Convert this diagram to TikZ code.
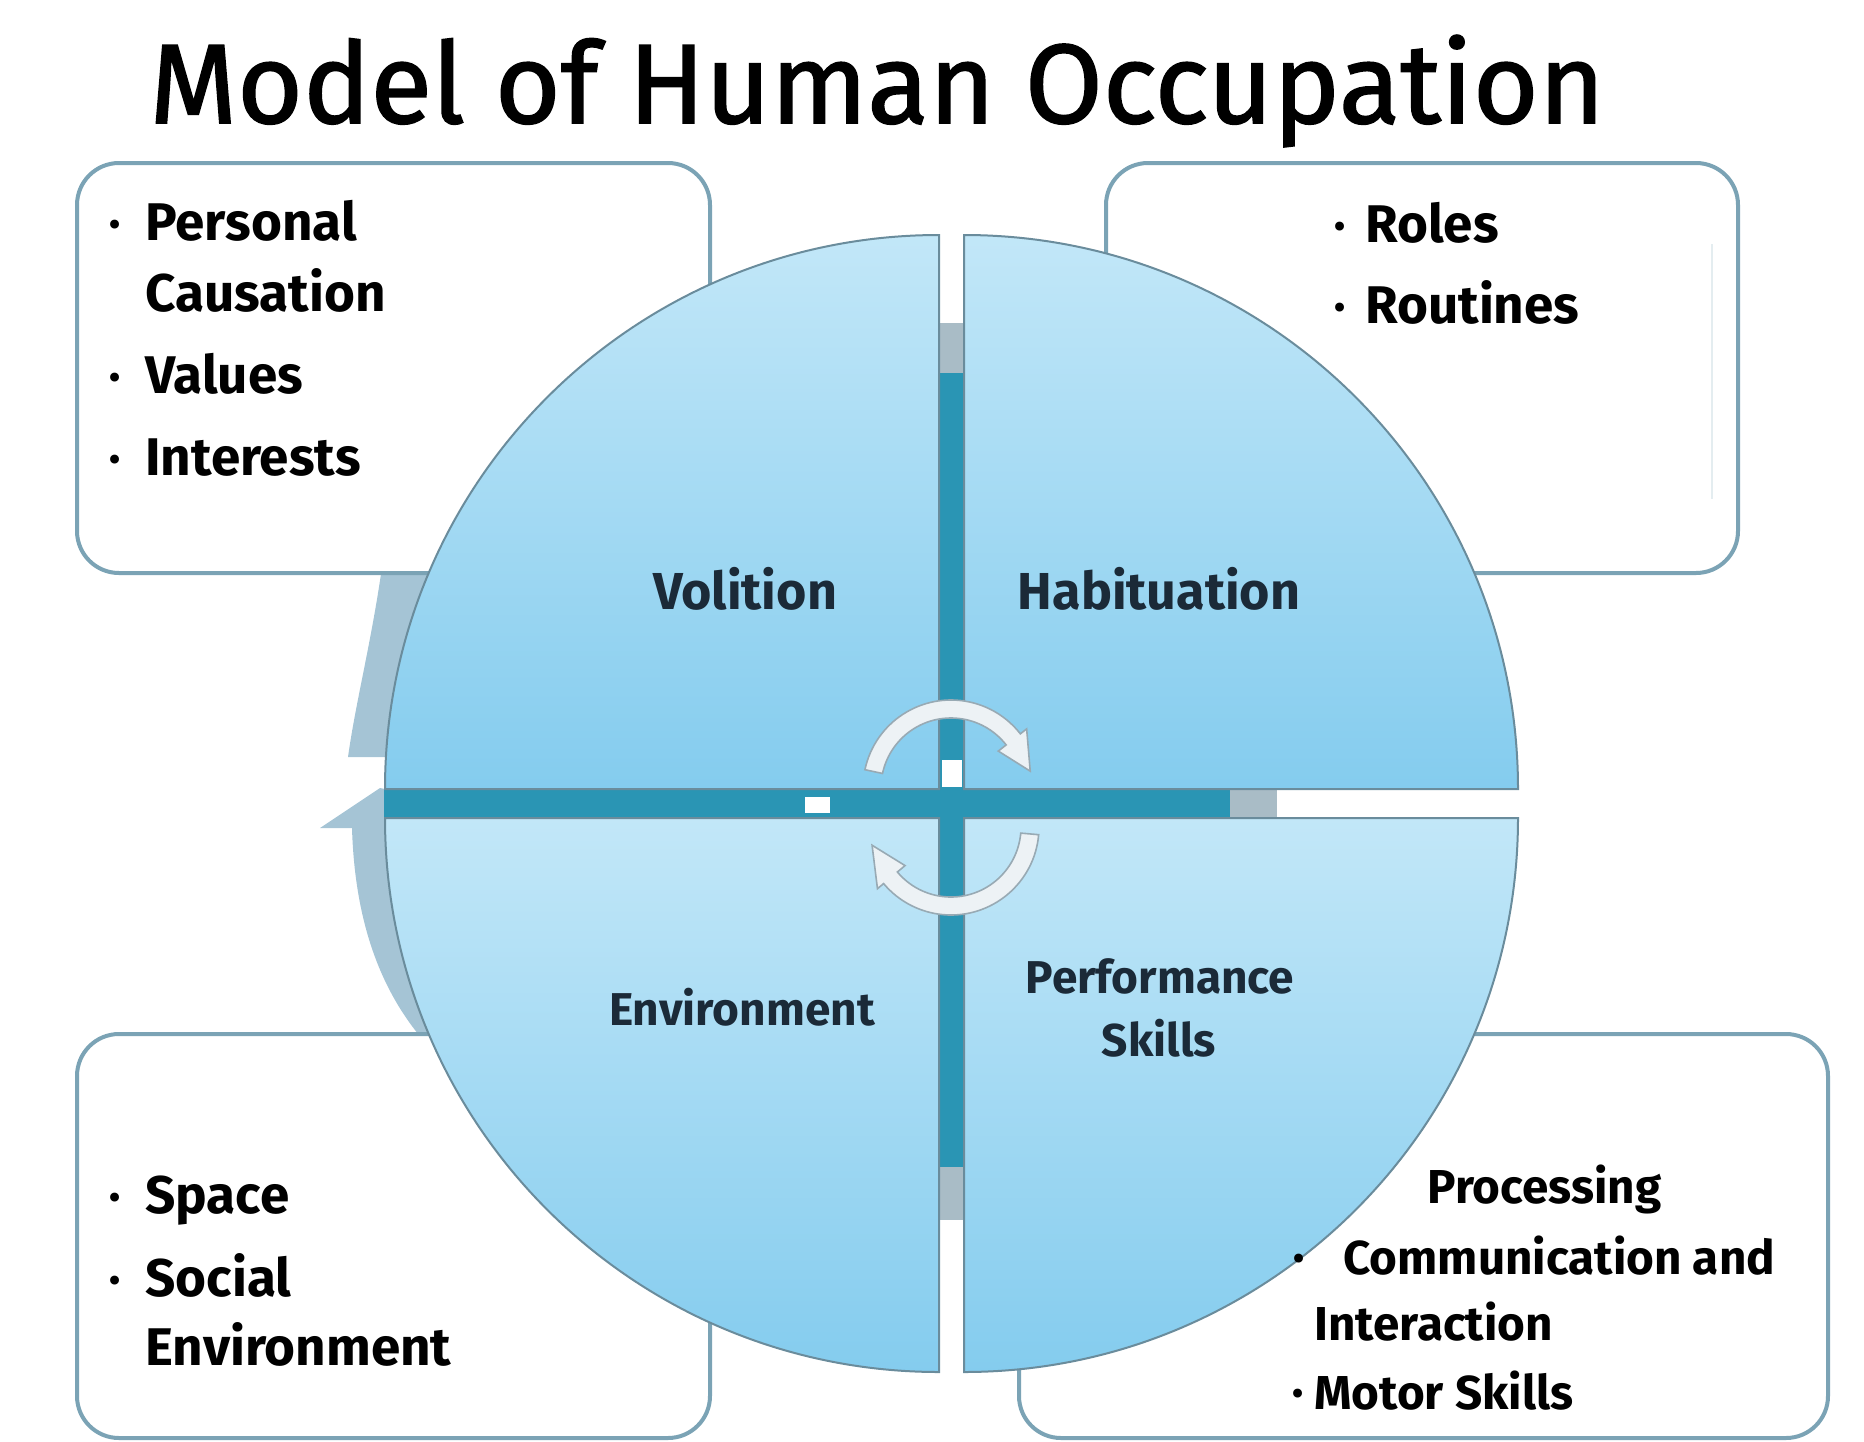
\documentclass[tikz,border=0pt]{standalone}
\usepackage{fontspec}
\setmainfont{Fira Sans}
\newfontfamily\titlefont{Fira Sans}[FakeBold=1.4]
\definecolor{boxline}{HTML}{7BA3B5}
\definecolor{quadline}{HTML}{6A8C9C}
\definecolor{quadtop}{HTML}{C2E7F8}
\definecolor{quadbot}{HTML}{84CCEE}
\definecolor{barteal}{HTML}{2A95B4}
\definecolor{bargrey}{HTML}{A9BCC6}
\definecolor{backarrow}{HTML}{A5C4D5}
\definecolor{labelnavy}{HTML}{1B2A38}
\definecolor{turnfill}{HTML}{EDF2F5}
\definecolor{turnline}{HTML}{98AAB4}
\begin{document}
\begin{tikzpicture}[x=0.5pt,y=-0.5pt,
  infobox/.style={draw=boxline, line width=2pt, fill=white, rounded corners=21pt},
  quad/.style={draw=quadline, line width=1pt, top color=quadtop, bottom color=quadbot},
  listtext/.style={anchor=base west, inner sep=0pt, font=\bfseries\fontsize{26.5}{28}\selectfont},
  bulletmark/.style={anchor=base, inner sep=0pt, yshift=2.5pt, font=\bfseries\fontsize{16}{16}\selectfont},
  quadlabel/.style={anchor=base, inner sep=0pt, text=labelnavy, font=\bfseries\fontsize{26}{30}\selectfont},
  turn/.style={fill=turnfill, draw=turnline, line width=0.8pt}]
\useasboundingbox (0,0) rectangle (1864,1441);
\node [anchor=base west, inner sep=0pt, font=\titlefont\fontsize{56.4}{60}\selectfont] (title) at (149,123) {Model of Human Occupation};
% arrow pieces behind the circle
\fill [backarrow] (383,560) .. controls (372,640) and (356,700) .. (348,757) -- (430,757) -- (450,560) -- cycle;
\fill [backarrow] (380,788) -- (320,828) -- (352,828) .. controls (355,930) and (385,995) .. (423,1040) -- (520,1040) -- (450,828) -- (440,800) -- cycle;
% boxes
\draw [infobox] (77,163) rectangle (710,573);
\draw [infobox] (1106,163) rectangle (1738,573);
\draw [infobox] (77,1034) rectangle (710,1438);
\draw [infobox] (1019,1034) rectangle (1828,1438);
\draw [white!80!boxline, line width=1pt] (1712,244) -- (1712,499);
% bars
\fill [bargrey] (939,323) rectangle (964,1220);
\fill [barteal] (939,373) rectangle (964,1167);
\fill [barteal] (384,789) rectangle (1230,818);
\fill [bargrey] (1230,789) rectangle (1277,818);
\fill [white] (805,797) rectangle (830,813);
\fill [white] (942,760) rectangle (962,787);
% quadrants
\path [quad] (939,789) -- ++(-554,0) arc [start angle=180, end angle=270, radius=554] -- cycle;
\path [quad] (964,789) -- ++(0,-554) arc [start angle=270, end angle=360, radius=554] -- cycle;
\path [quad] (939,818) -- ++(-554,0) arc [start angle=180, end angle=90, radius=554] -- cycle;
\path [quad] (964,818) -- ++(554,0) arc [start angle=0, end angle=90, radius=554] -- cycle;
\coordinate (c1) at (951,788);
\coordinate (c2) at (951,827);
\draw [turn] ([shift={(-168:88)}]c1) arc [start angle=-168, end angle=-38, radius=88] -- ([shift={(-38:96)}]c1) -- ([shift={(-12:81)}]c1) -- ([shift={(-38:60)}]c1) -- ([shift={(-38:70)}]c1) arc [start angle=-38, end angle=-168, radius=70] -- cycle;
\draw [turn] ([shift={(5:88)}]c2) arc [start angle=5, end angle=140, radius=88] -- ([shift={(140:96)}]c2) -- ([shift={(167:81)}]c2) -- ([shift={(140:60)}]c2) -- ([shift={(140:70)}]c2) arc [start angle=140, end angle=5, radius=70] -- cycle;
% labels
\node [quadlabel] (volition) at (745,609) {Volition};
\node [quadlabel] (habituation) at (1159,609) {Habituation};
\node [quadlabel, font=\bfseries\fontsize{23}{26}\selectfont] (environment) at (742,1025) {Environment};
\node [quadlabel, font=\bfseries\fontsize{23}{26}\selectfont] (performance) at (1160,993) {Performance};
\node [quadlabel, font=\bfseries\fontsize{23}{26}\selectfont] (skills) at (1159,1056) {Skills};
% box texts
\node [bulletmark] (b1) at (115,240) {•};
\node [listtext] (personal) at (145,240) {Personal};
\node [listtext] (causation) at (145,311) {Causation};
\node [bulletmark] (b2) at (115,393) {•};
\node [listtext] (values) at (145,393) {Values};
\node [bulletmark] (b3) at (115,475) {•};
\node [listtext] (interests) at (145,475) {Interests};
\node [bulletmark] (b4) at (1340,242) {•};
\node [listtext] (roles) at (1365,242) {Roles};
\node [bulletmark] (b5) at (1340,323) {•};
\node [listtext] (routines) at (1365,323) {Routines};
\node [bulletmark] (b6) at (115,1213) {•};
\node [listtext] (space) at (145,1213) {Space};
\node [bulletmark] (b7) at (115,1296) {•};
\node [listtext] (social) at (145,1296) {Social};
\node [listtext] (socialenv) at (145,1365) {Environment};
\node [listtext, font=\bfseries\fontsize{23.8}{26}\selectfont] (processing) at (1427,1203) {Processing};
\node [bulletmark] (b8) at (1299,1274) {•};
\node [listtext, font=\bfseries\fontsize{23.8}{26}\selectfont] (communication) at (1343,1274) {Communication and};
\node [listtext, font=\bfseries\fontsize{23.8}{26}\selectfont] (interaction) at (1314,1340) {Interaction};
\node [bulletmark] (b9) at (1298,1409) {•};
\node [listtext, font=\bfseries\fontsize{23.8}{26}\selectfont] (motor) at (1314,1409) {Motor Skills};
\end{tikzpicture}
\end{document}
